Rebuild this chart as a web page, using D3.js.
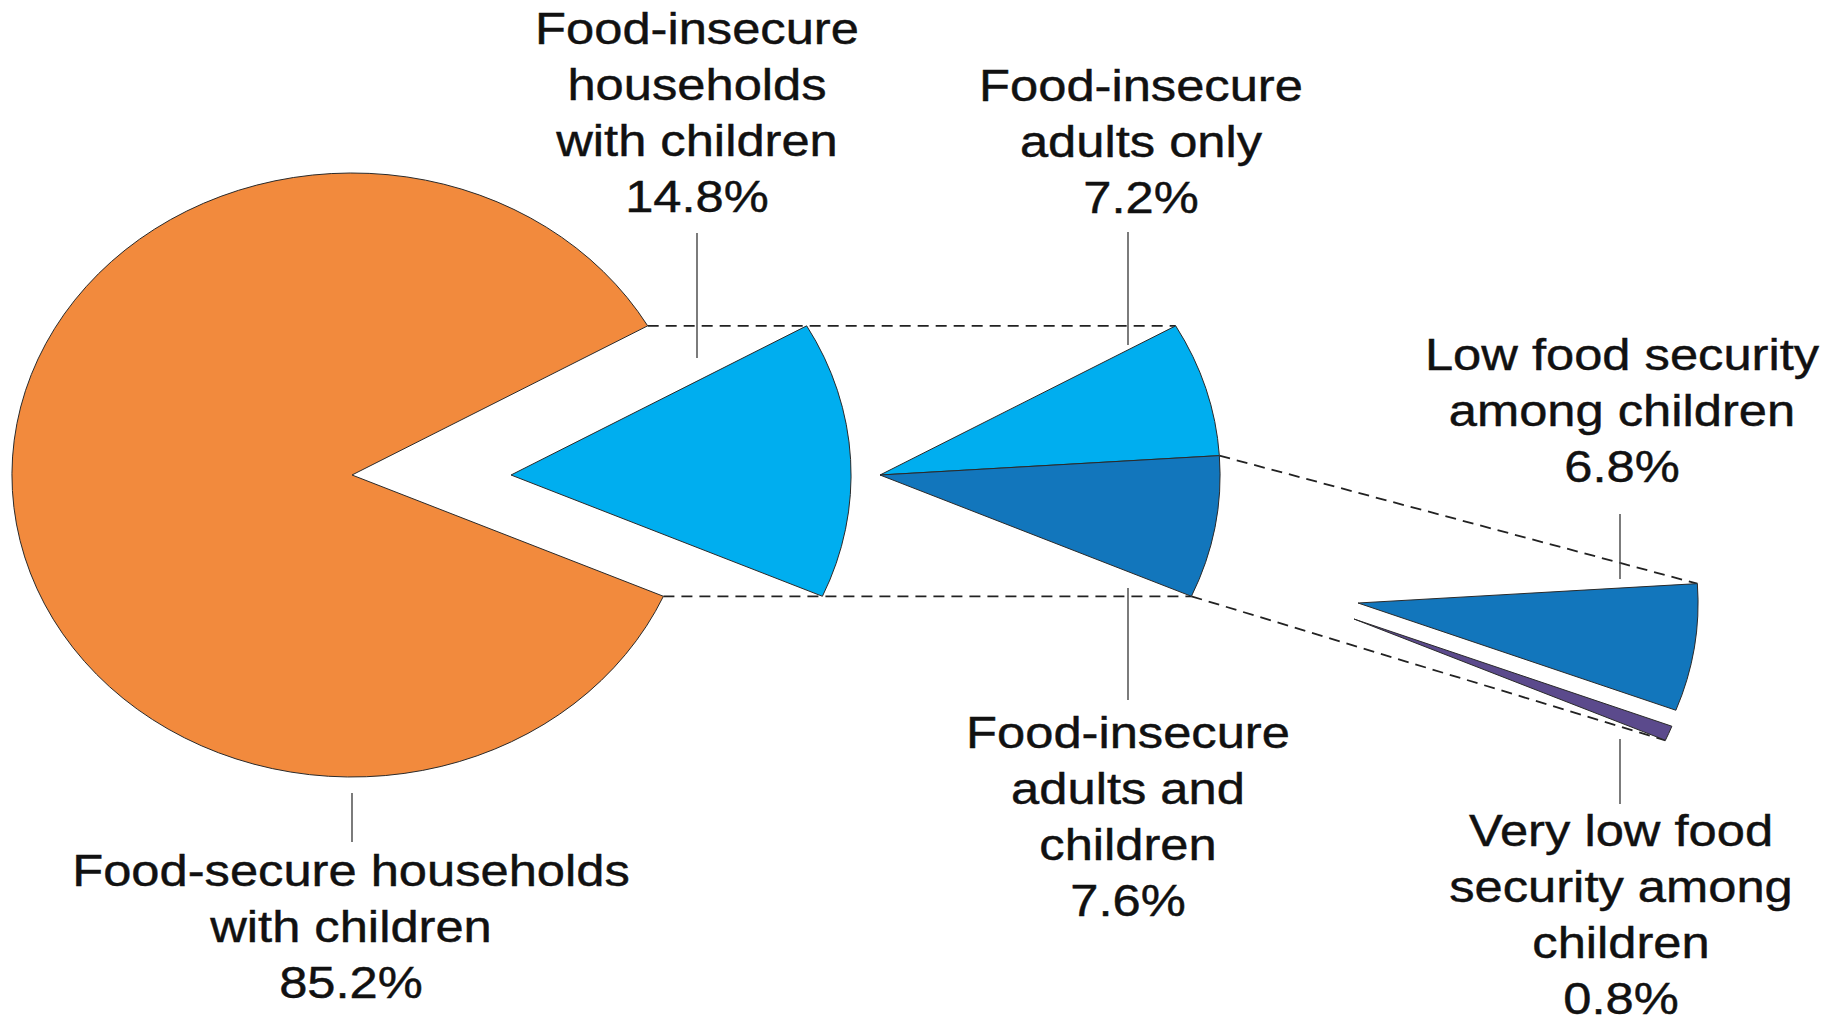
<!DOCTYPE html>
<html>
<head>
<meta charset="utf-8">
<script src="https://cdn.jsdelivr.net/npm/d3@7"></script>
<style>
    body{margin:0;background:#fff}
    svg{display:block}
    text{font-family:'Liberation Sans',Arial,Helvetica,sans-serif;fill:#111;stroke:#111;stroke-width:0.45}
</style>
</head>
<body>
<script>
// data
const householdNames = ['Food-secure households\nwith children', 'Food-insecure\nhouseholds\nwith children']
const householdValues = [85.2, 14.8]

const insecureNames = ['Food-insecure\nadults only', 'Food-insecure\nadults and\nchildren']
const insecureValues = [7.2, 7.6]

const childNames = ['Low food security\namong children', 'Very low food\nsecurity among\nchildren']
const childValues = [6.8, 0.8]

const colors = {
    secure: '#f28a3d',
    insecure: '#00aeef',
    adultsChildren: '#1276bc',
    veryLow: '#5b4a8c'
}

// sizes
const sizeOfSVG = {width: 1839, height: 1024}
const R = 302          // pie radius
const sx = 1.126       // the drawing is a little wider than tall
const fontSize = 45
const lineHeight = 56

const svg = d3.select('body')
    .append('svg')
    .attr('width', sizeOfSVG.width)
    .attr('height', sizeOfSVG.height)

// percent -> angle
const angle = d3.scaleLinear().domain([0, 100]).range([0, 2 * Math.PI])
const a0 = 60.4 * Math.PI / 180               // upper edge of the insecure slice
const a1 = a0 + angle(insecureValues[0])      // upper edge of adults-and-children slice

const arc = d3.arc().innerRadius(0).outerRadius(R)

// pie centres
const cSecure = [352, 475]
const cInsecure = [511, 475]
const cSplit = [880, 475]
const cChild = [1358, 603]
const veryLowShift = [-4, 16]

const tip = (c, a) => [c[0] + sx * R * Math.sin(a), c[1] - R * Math.cos(a)]

// pies
const pieTop = d3.pie().sort(null).value(d => d)
    .startAngle(a0 + angle(householdValues[1]))
    .endAngle(a0 + angle(householdValues[1]) + 2 * Math.PI)(householdValues)

const pieSplit = d3.pie().sort(null).value(d => d)
    .startAngle(a0)
    .endAngle(a0 + angle(householdValues[1]))(insecureValues)

const pieChild = d3.pie().sort(null).value(d => d)
    .startAngle(a1)
    .endAngle(a1 + angle(insecureValues[1]))(childValues)

// dashed connectors
const veryLowEnd = tip([cChild[0] + veryLowShift[0], cChild[1] + veryLowShift[1]], pieChild[1].endAngle)
const connectors = [
    [tip(cSecure, a0), tip(cSplit, a0)],
    [tip(cSecure, a0 + angle(householdValues[1])), tip(cSplit, a0 + angle(householdValues[1]))],
    [tip(cSplit, a1), tip(cChild, a1)],
    [tip(cSplit, pieSplit[1].endAngle), veryLowEnd]
]

svg.selectAll('line.connector')
    .data(connectors)
    .enter()
    .append('line')
    .attr('class', 'connector')
    .attr('x1', d => d[0][0])
    .attr('y1', d => d[0][1])
    .attr('x2', d => d[1][0])
    .attr('y2', d => d[1][1])
    .attr('stroke', '#222')
    .attr('stroke-width', 1.8)
    .attr('stroke-dasharray', '11,7')

const drawSlice = (d, c, fill) => {
    svg.append('path')
        .attr('d', arc(d))
        .attr('transform', `translate(${c[0]},${c[1]}) scale(${sx},1)`)
        .attr('fill', fill)
        .attr('stroke', '#2a2a2a')
        .attr('stroke-width', 1)
        .attr('vector-effect', 'non-scaling-stroke')
}

drawSlice(pieTop[0], cSecure, colors.secure)
drawSlice(pieTop[1], cInsecure, colors.insecure)
drawSlice(pieSplit[0], cSplit, colors.insecure)
drawSlice(pieSplit[1], cSplit, colors.adultsChildren)
drawSlice(pieChild[0], cChild, colors.adultsChildren)
drawSlice(pieChild[1], [cChild[0] + veryLowShift[0], cChild[1] + veryLowShift[1]], colors.veryLow)

// labels
const fmt = v => d3.format('.1f')(v) + '%'
const labels = [
    {name: householdNames[0], value: householdValues[0], x: 351, y: 886, lx: 352, leader: [793, 842]},
    {name: householdNames[1], value: householdValues[1], x: 697, y: 44, lx: 697, leader: [233, 358]},
    {name: insecureNames[0], value: insecureValues[0], x: 1141, y: 101, lx: 1128, leader: [232, 345]},
    {name: insecureNames[1], value: insecureValues[1], x: 1128, y: 748, lx: 1128, leader: [588, 700]},
    {name: childNames[0], value: childValues[0], x: 1622, y: 370, lx: 1620, leader: [514, 579]},
    {name: childNames[1], value: childValues[1], x: 1621, y: 846, lx: 1620, leader: [739, 804]}
]

labels.forEach(l => {
    const lines = l.name.split('\n').concat([fmt(l.value)])
    lines.forEach((t, i) => {
        svg.append('text')
            .attr('text-anchor', 'middle')
            .attr('font-size', fontSize)
            .attr('transform', `translate(${l.x},${l.y + i * lineHeight}) scale(${sx},1)`)
            .text(t)
    })
    svg.append('line')
        .attr('x1', l.lx)
        .attr('x2', l.lx)
        .attr('y1', l.leader[0])
        .attr('y2', l.leader[1])
        .attr('stroke', '#444')
        .attr('stroke-width', 1.4)
})
</script>
</body>
</html>
